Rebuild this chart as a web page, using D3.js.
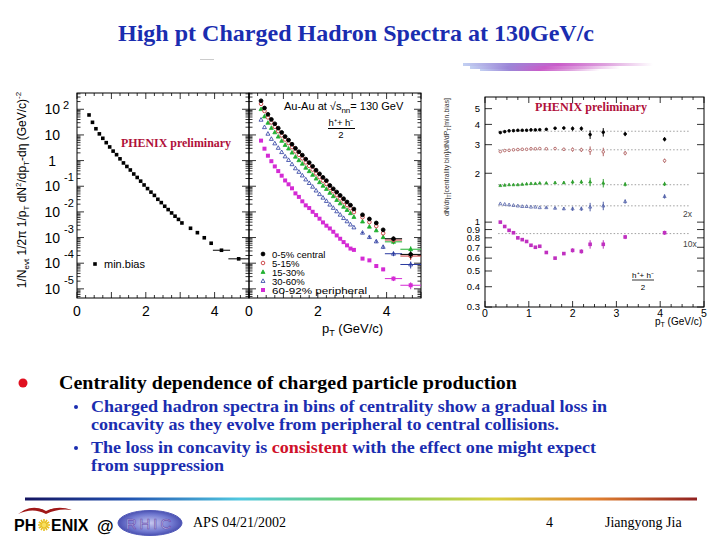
<!DOCTYPE html>
<html lang="en">
<head>
<meta charset="utf-8">
<title>High pt Charged Hadron Spectra at 130GeV/c</title>
<script src="https://d3js.org/d3.v7.min.js"></script>
<style>
  body { margin: 0; background: #fff; }
  svg { display: block; }
  .serif { font-family: "Liberation Serif", "Times New Roman", serif; }
  .sans { font-family: "Liberation Sans", Arial, Helvetica, sans-serif; }
  .frame { fill: none; stroke: #000; stroke-width: 1; }
  .tick { stroke: #000; stroke-width: 0.8; }
</style>
</head>
<body>
<script>
// ---- spectra (left + middle panels), pT in GeV/c ----
var ptBins = [0.35,0.45,0.55,0.65,0.75,0.85,0.95,1.05,1.15,1.25,1.35,1.45,1.55,1.65,1.75,1.85,1.95,2.05,2.15,2.25,2.35,2.45,2.55,2.65,2.75,2.85,2.95,3.05,3.3,3.5,3.7,3.9,4.2,4.7];
var minBias = [60,31,17.4,11.0,7.4,5.0,3.4,2.34,1.70,1.17,0.81,0.59,0.43,0.30,0.22,0.158,0.112,0.081,0.059,0.044,0.031,0.023,0.0166,0.0123,0.0091,0.0068,0.0051,0.0037,0.0023,0.00155,0.00098,0.0006,0.00032,0.000148];
var cent0_5 = [214,112,63.5,40.3,27.2,18.4,12.5,8.66,6.29,4.34,3.02,2.20,1.63,1.14,0.836,0.600,0.422,0.305,0.222,0.166,0.107,0.0796,0.0594,0.0440,0.0326,0.0243,0.0183,0.0129,0.0077,0.0053,0.0037,0.0020,0.0009,0.00022];
var cent5_15 = [163,85.6,48.2,30.7,20.7,14.05,9.55,6.62,4.81,3.32,2.29,1.67,1.22,0.852,0.618,0.444,0.314,0.227,0.165,0.123,0.0856,0.0635,0.0450,0.0333,0.0247,0.0184,0.0138,0.0098,0.0062,0.0040,0.0028,0.00147,0.0008,0.00019];
var cent15_30 = [101,52.4,29.6,18.7,12.6,8.55,5.85,4.05,2.94,2.04,1.41,1.03,0.753,0.525,0.385,0.277,0.198,0.143,0.104,0.0779,0.0549,0.0407,0.0289,0.0214,0.0158,0.0118,0.00887,0.00633,0.0042,0.00265,0.0019,0.00103,0.00068,0.00035];
var cent30_60 = [39,20.0,11.1,6.99,4.66,3.13,2.13,1.45,1.05,0.720,0.498,0.363,0.262,0.183,0.133,0.0956,0.0678,0.0490,0.0357,0.0266,0.0192,0.0143,0.0105,0.00775,0.00573,0.00428,0.00321,0.00248,0.00154,0.00104,0.000706,0.000432,0.000234,0.000089];
var cent60_92 = [6.0,2.91,1.55,0.946,0.592,0.390,0.258,0.168,0.119,0.0831,0.0527,0.0384,0.0258,0.0180,0.0141,0.0101,0.00750,0.00543,0.00389,0.00290,0.00226,0.00168,0.00121,0.000898,0.000664,0.000496,0.000372,0.00033,0.000151,0.000129,0.0000776,0.0000575,0.0000251,0.0000138];
var spectraRelErr = [0,0,0,0,0,0,0,0,0,0,0,0,0,0,0,0,0,0,0,0,0,0,0,0,0,0,0,0,0.08,0.1,0.12,0.15,0.2,0.3];
var ptHalfWidth = [0,0,0,0,0,0,0,0,0,0,0,0,0,0,0,0,0,0,0,0,0,0,0,0,0,0,0,0,0,0,0,0,0.25,0.3];

// ---- ratios to min.bias (right panel) ----
var ratioBins = [0.35,0.45,0.55,0.65,0.75,0.85,0.95,1.05,1.15,1.25,1.4,1.6,1.8,2.0,2.2,2.4,2.7,3.2,4.1];
var ratio0_5 = [3.56,3.61,3.65,3.66,3.68,3.68,3.68,3.70,3.70,3.71,3.73,3.79,3.80,3.77,3.77,3.46,3.58,3.49,3.24];
var ratio5_15 = [2.72,2.76,2.77,2.79,2.80,2.81,2.81,2.83,2.83,2.84,2.83,2.84,2.81,2.80,2.79,2.76,2.71,2.66,2.39];
var ratio15_30 = [1.68,1.69,1.70,1.70,1.70,1.71,1.72,1.73,1.73,1.74,1.74,1.75,1.75,1.77,1.77,1.77,1.74,1.71,1.72];
var ratio30_60x2 = [1.30,1.29,1.28,1.27,1.26,1.25,1.25,1.24,1.24,1.23,1.23,1.22,1.21,1.21,1.21,1.24,1.26,1.34,1.44];
var ratio60_92x10 = [1.00,0.94,0.89,0.86,0.80,0.78,0.76,0.72,0.70,0.71,0.65,0.60,0.64,0.67,0.66,0.73,0.73,0.81,0.86];
var ratioRelErr = [0,0,0,0,0,0,0,0,0,0,0.01,0.015,0.02,0.03,0.03,0.06,0.06,0.03,0.03];
var ratioLevels = [3.63,2.79,1.70,1.26,0.85];

// ---- labels / ticks ----
var legendLabels = ["0-5% central","5-15%","15-30%","30-60%","60-92% peripheral"];
var spectraExponents = [2,1,0,-1,-2,-3,-4,-5];
var ptTickLabels = [0,2,4];
var ratioTickLabels = [0.3,0.4,0.5,0.6,0.7,0.8,0.9,1,2,3,4,5];
var ratioPtTickLabels = [0,1,2,3,4,5];

var W = 720, H = 540;
var svg = d3.select("body").append("svg").attr("width", W).attr("height", H);
svg.append("rect").attr("width", W).attr("height", H).attr("fill", "#fff");

var defs = svg.append("defs");
var streak = defs.append("linearGradient").attr("id", "streak");
[["0", "#b8c8f0"], ["0.25", "#8a70d0"], ["0.5", "#c040c0"], ["0.75", "#d890d8"], ["1", "#ffffff"]]
  .forEach(function(s) { streak.append("stop").attr("offset", s[0]).attr("stop-color", s[1]); });
var rainbow = defs.append("linearGradient").attr("id", "rainbow");
[["0", "#141460"], ["0.15", "#2050b0"], ["0.32", "#50c8e0"], ["0.5", "#70d060"], ["0.7", "#d8d040"], ["0.85", "#e08030"], ["1", "#902020"]]
  .forEach(function(s) { rainbow.append("stop").attr("offset", s[0]).attr("stop-color", s[1]); });
var rhicGrad = defs.append("radialGradient").attr("id", "rhic");
[["0", "#c8c8f0"], ["0.7", "#7078d0"], ["1", "#4a50b0"]]
  .forEach(function(s) { rhicGrad.append("stop").attr("offset", s[0]).attr("stop-color", s[1]); });

// ---- title and decoration ----
svg.append("text").attr("class", "serif").attr("x", 118).attr("y", 41)
  .attr("font-size", 24).attr("font-weight", "bold")
  .attr("textLength", 476).attr("lengthAdjust", "spacingAndGlyphs")
  .attr("fill", "#1a2db0").text("High pt Charged Hadron Spectra at 130GeV/c");
[[463, 63, 190, 3], [470, 66, 150, 3], [480, 69, 120, 2]].forEach(function(r) {
  svg.append("rect").attr("x", r[0]).attr("y", r[1]).attr("width", r[2]).attr("height", r[3])
    .attr("fill", "url(#streak)").attr("opacity", 0.85);
});
svg.append("rect").attr("x", 200).attr("y", 59).attr("width", 14).attr("height", 1).attr("fill", "#ccc");

// ---- helpers ----
function marker(g, shape, cx, cy, s, color) {
  if (shape === "circle" || shape === "ocircle") {
    g.append("circle").attr("cx", cx).attr("cy", cy).attr("r", s)
      .attr("fill", shape === "circle" ? color : "#fff").attr("stroke", color).attr("stroke-width", 0.9);
  } else if (shape === "tri" || shape === "otri") {
    var p = [[cx, cy - s * 1.2], [cx - s * 1.1, cy + s * 0.8], [cx + s * 1.1, cy + s * 0.8]];
    g.append("polygon").attr("points", p.join(" "))
      .attr("fill", shape === "tri" ? color : "none").attr("stroke", color).attr("stroke-width", 0.8);
  } else {
    g.append("rect").attr("x", cx - s).attr("y", cy - s).attr("width", 2 * s).attr("height", 2 * s).attr("fill", color);
  }
}

function frame(g, x, y, yMajors, yMinors) {
  var x0 = x.range()[0], x1 = x.range()[1], y0 = y.range()[0], y1 = y.range()[1];
  g.append("rect").attr("class", "frame").attr("x", x0).attr("y", y1)
    .attr("width", x1 - x0).attr("height", y0 - y1);
  var xt = d3.range(0, 5.01, 0.25);
  xt.forEach(function(v) {
    var len = Math.abs(v - Math.round(v)) < 1e-6 ? 6 : 3;
    g.append("line").attr("class", "tick").attr("x1", x(v)).attr("x2", x(v)).attr("y1", y0).attr("y2", y0 - len);
    g.append("line").attr("class", "tick").attr("x1", x(v)).attr("x2", x(v)).attr("y1", y1).attr("y2", y1 + len);
  });
  yMajors.concat(yMinors).forEach(function(v, i) {
    var len = i < yMajors.length ? 7 : 3.5;
    g.append("line").attr("class", "tick").attr("x1", x0).attr("x2", x0 + len).attr("y1", y(v)).attr("y2", y(v));
    g.append("line").attr("class", "tick").attr("x1", x1).attr("x2", x1 - len).attr("y1", y(v)).attr("y2", y(v));
  });
}

function errBars(g, x, y, xs, ys, rel, half, color) {
  xs.forEach(function(p, i) {
    if (rel[i] > 0) {
      g.append("line").attr("x1", x(p)).attr("x2", x(p))
        .attr("y1", y(ys[i] * (1 - rel[i]))).attr("y2", y(ys[i] * (1 + rel[i])))
        .attr("stroke", color).attr("stroke-width", 1);
    }
    if (half && half[i] > 0) {
      g.append("line").attr("x1", x(p - half[i])).attr("x2", x(p + half[i]))
        .attr("y1", y(ys[i])).attr("y2", y(ys[i])).attr("stroke", color).attr("stroke-width", 1);
    }
  });
}

// ---- spectra scales (left and middle share y) ----
var ySpec = d3.scaleLog().domain([4.4e-6, 431]).range([298, 93]);
var xLeft = d3.scaleLinear().domain([0, 5]).range([77, 249]);
var xMid = d3.scaleLinear().domain([0, 5]).range([249, 421]);

var logMajors = spectraExponents.map(function(k) { return Math.pow(10, k); });
var logMinors = [];
d3.range(-6, 3).forEach(function(k) {
  d3.range(2, 10).forEach(function(m) {
    var v = m * Math.pow(10, k);
    if (v > ySpec.domain()[0] && v < ySpec.domain()[1]) logMinors.push(v);
  });
});

var gL = svg.append("g");
frame(gL, xLeft, ySpec, logMajors, logMinors);
var gM = svg.append("g");
frame(gM, xMid, ySpec, logMajors, logMinors);

// y tick labels
spectraExponents.forEach(function(k) {
  var yy = ySpec(Math.pow(10, k));
  var t = gL.append("text").attr("class", "sans").attr("font-size", 14).attr("y", yy + 5);
  if (k === 0) {
    t.attr("x", 56).attr("text-anchor", "end").text("1");
  } else {
    t.attr("x", 60).attr("text-anchor", "end").text("10");
    if (k !== 1) {
      gL.append("text").attr("class", "sans").attr("font-size", 11)
        .attr("x", k > 0 ? 63 : 64).attr("y", yy + (k > 0 ? 0 : -5)).text(k);
    }
  }
});
// x tick labels
ptTickLabels.forEach(function(v) {
  gL.append("text").attr("class", "sans").attr("font-size", 14).attr("x", xLeft(v)).attr("y", 316)
    .attr("text-anchor", "middle").text(v);
  gM.append("text").attr("class", "sans").attr("font-size", 14).attr("x", xMid(v)).attr("y", 316)
    .attr("text-anchor", "middle").text(v);
});

// left y title
var yt = svg.append("text").attr("class", "sans").attr("font-size", 12)
  .attr("transform", "translate(26,190) rotate(-90)").attr("text-anchor", "middle");
yt.append("tspan").text("1/N");
yt.append("tspan").attr("font-size", 8).attr("dy", 3).text("evt");
yt.append("tspan").attr("dy", -3).text(" 1/2\u03c0 1/p");
yt.append("tspan").attr("font-size", 8).attr("dy", 3).text("T");
yt.append("tspan").attr("dy", -3).text(" dN");
yt.append("tspan").attr("font-size", 8).attr("dy", -5).text("2");
yt.append("tspan").attr("dy", 5).text("/dp");
yt.append("tspan").attr("font-size", 8).attr("dy", 3).text("T");
yt.append("tspan").attr("dy", -3).text("-d\u03b7 (GeV/c)");
yt.append("tspan").attr("font-size", 8).attr("dy", -5).text("-2");

// left panel: min.bias
minBias.forEach(function(v, i) { marker(gL, "square", xLeft(ptBins[i]), ySpec(v), 1.8, "#000"); });
errBars(gL, xLeft, ySpec, ptBins, minBias, ptBins.map(function() { return 0; }), ptHalfWidth, "#000");
marker(gL, "square", 95, 264, 1.8, "#000");
gL.append("text").attr("class", "sans").attr("font-size", 11).attr("x", 104).attr("y", 268).text("min.bias");
gL.append("text").attr("class", "serif").attr("font-size", 12.5).attr("font-weight", "bold")
  .attr("fill", "#b0103a").attr("x", 121).attr("y", 147)
  .attr("textLength", 110).attr("lengthAdjust", "spacingAndGlyphs").text("PHENIX preliminary");

// middle panel: centrality classes
var series = [
  { vals: cent60_92, shape: "square", size: 2, color: "#d42ad4" },
  { vals: cent30_60, shape: "otri", size: 1.8, color: "#2a3aa0" },
  { vals: cent15_30, shape: "tri", size: 1.8, color: "#20b030" },
  { vals: cent5_15, shape: "ocircle", size: 1.8, color: "#c83a3a" },
  { vals: cent0_5, shape: "circle", size: 1.9, color: "#000" }
];
series.forEach(function(s) {
  errBars(gM, xMid, ySpec, ptBins, s.vals, spectraRelErr, ptHalfWidth, s.color);
  s.vals.forEach(function(v, i) { marker(gM, s.shape, xMid(ptBins[i]), ySpec(v), s.size, s.color); });
});
series.slice().reverse().forEach(function(s, i) {
  var yy = 254 + i * 9;
  marker(gM, s.shape, 263, yy, s.size, s.color);
  gM.append("text").attr("class", "sans").attr("font-size", 9.5).attr("x", 272).attr("y", yy + 3.5)
    .attr("textLength", i === 4 ? 95 : null).attr("lengthAdjust", "spacingAndGlyphs").text(legendLabels[i]);
});
var au = gM.append("text").attr("class", "sans").attr("font-size", 11).attr("x", 284).attr("y", 110);
au.append("tspan").text("Au-Au at \u221as");
au.append("tspan").attr("font-size", 8).attr("dy", 3).text("nn");
au.append("tspan").attr("dy", -3).text("= 130 GeV");
gM.append("text").attr("class", "sans").attr("font-size", 9.5).attr("x", 341).attr("y", 126)
  .attr("text-anchor", "middle").text("h\u207a+ h\u207b");
gM.append("line").attr("x1", 328).attr("x2", 355).attr("y1", 128.5).attr("y2", 128.5).attr("stroke", "#000");
gM.append("text").attr("class", "sans").attr("font-size", 9.5).attr("x", 341).attr("y", 138)
  .attr("text-anchor", "middle").text("2");
var px = gM.append("text").attr("class", "sans").attr("font-size", 13).attr("x", 322).attr("y", 333);
px.append("tspan").text("p");
px.append("tspan").attr("font-size", 9).attr("dy", 3).text("T");
px.append("tspan").attr("dy", -3).text(" (GeV/c)");

// ---- right panel: ratios ----
var xR = d3.scaleLinear().domain([0, 5]).range([485, 704]);
var yR = d3.scaleLog().domain([0.3, 5.9]).range([307, 97]);
var gR = svg.append("g");
frame(gR, xR, yR, ratioTickLabels, []);
ratioTickLabels.forEach(function(v) {
  gR.append("text").attr("class", "sans").attr("font-size", 9.5).attr("x", 480).attr("y", yR(v) + 3.3)
    .attr("text-anchor", "end").text(v);
});
ratioPtTickLabels.forEach(function(v) {
  gR.append("text").attr("class", "sans").attr("font-size", 10.5).attr("x", xR(v)).attr("y", 317)
    .attr("text-anchor", "middle").text(v);
});
var rx = gR.append("text").attr("class", "sans").attr("font-size", 10).attr("x", 655).attr("y", 325);
rx.append("tspan").text("p");
rx.append("tspan").attr("font-size", 7).attr("dy", 2).text("T");
rx.append("tspan").attr("dy", -2).text(" (GeV/c)");
var ryt = svg.append("text").attr("class", "sans").attr("font-size", 7.5).attr("fill", "#333")
  .attr("transform", "translate(449,157) rotate(-90)").attr("text-anchor", "middle")
  .attr("textLength", 118).attr("lengthAdjust", "spacingAndGlyphs");
ryt.append("tspan").text("dN/d\u03b7");
ryt.append("tspan").attr("font-size", 5.5).attr("dy", 2).text("T");
ryt.append("tspan").attr("dy", -2).text("[centrality bin]/dN/dP");
ryt.append("tspan").attr("font-size", 5.5).attr("dy", 2).text("T");
ryt.append("tspan").attr("dy", -2).text("[min.bias]");

ratioLevels.forEach(function(v) {
  gR.append("line").attr("x1", xR(0.3)).attr("x2", xR(4.65)).attr("y1", yR(v)).attr("y2", yR(v))
    .attr("stroke", "#777").attr("stroke-width", 0.7).attr("stroke-dasharray", "1.5,2");
});
var ratioSeries = [
  { vals: ratio0_5, shape: "circle", size: 1.3, color: "#000" },
  { vals: ratio5_15, shape: "ocircle", size: 1.3, color: "#b06060" },
  { vals: ratio15_30, shape: "tri", size: 1.3, color: "#30a030" },
  { vals: ratio30_60x2, shape: "otri", size: 1.4, color: "#5060a8" },
  { vals: ratio60_92x10, shape: "square", size: 1.8, color: "#c030c0" }
];
ratioSeries.forEach(function(s) {
  errBars(gR, xR, yR, ratioBins, s.vals, ratioRelErr, null, s.color);
  s.vals.forEach(function(v, i) { marker(gR, s.shape, xR(ratioBins[i]), yR(v), s.size, s.color); });
});
gR.append("text").attr("class", "sans").attr("font-size", 8.5).attr("fill", "#444").attr("x", 683).attr("y", 217).text("2x");
gR.append("text").attr("class", "sans").attr("font-size", 8.5).attr("fill", "#444").attr("x", 683).attr("y", 247).text("10x");
gR.append("text").attr("class", "sans").attr("font-size", 8).attr("x", 643).attr("y", 278)
  .attr("text-anchor", "middle").text("h\u207a+ h\u207b");
gR.append("line").attr("x1", 632).attr("x2", 654).attr("y1", 280).attr("y2", 280).attr("stroke", "#000").attr("stroke-width", 0.8);
gR.append("text").attr("class", "sans").attr("font-size", 8).attr("x", 643).attr("y", 290)
  .attr("text-anchor", "middle").text("2");
gR.append("text").attr("class", "serif").attr("font-size", 12.5).attr("font-weight", "bold")
  .attr("fill", "#b0103a").attr("x", 535).attr("y", 111)
  .attr("textLength", 112).attr("lengthAdjust", "spacingAndGlyphs").text("PHENIX preliminary");

// ---- bullet text ----
svg.append("circle").attr("cx", 23).attr("cy", 383).attr("r", 4.5).attr("fill", "#e01020");
svg.append("text").attr("class", "serif").attr("font-size", 19.5).attr("font-weight", "bold")
  .attr("x", 59).attr("y", 389).attr("textLength", 458).attr("lengthAdjust", "spacingAndGlyphs")
  .text("Centrality dependence of charged particle production");
[407, 448].forEach(function(yy) {
  svg.append("circle").attr("cx", 76).attr("cy", yy).attr("r", 2).attr("fill", "#1a2db0");
});
var lines = [
  [["Charged hadron spectra in bins of centrality show a gradual loss in", "#1a2db0"]],
  [["concavity as they evolve from peripheral to central collisions.", "#1a2db0"]],
  [["The loss in concavity is ", "#1a2db0"], ["consistent", "#d0102a"], [" with the effect one might expect", "#1a2db0"]],
  [["from suppression", "#1a2db0"]]
];
var lineWidths = [516, 468, 505, 133];
[412, 430, 453, 471].forEach(function(yy, i) {
  var t = svg.append("text").attr("class", "serif").attr("font-size", 17).attr("font-weight", "bold")
    .attr("x", 91).attr("y", yy).attr("xml:space", "preserve")
    .attr("textLength", lineWidths[i]).attr("lengthAdjust", "spacingAndGlyphs");
  lines[i].forEach(function(seg) { t.append("tspan").attr("fill", seg[1]).text(seg[0]); });
});

// ---- footer ----
svg.append("rect").attr("x", 25).attr("y", 497.5).attr("width", 672).attr("height", 3).attr("fill", "url(#rainbow)");
svg.append("path").attr("d", "M18,514 Q32,503 46,511 Q58,505 72,510 Q58,508 46,514 Q33,507 18,514 Z")
  .attr("fill", "#a01818");
svg.append("text").attr("class", "sans").attr("font-size", 16).attr("font-weight", "bold")
  .attr("x", 14).attr("y", 531).text("PH");
var sun = svg.append("g").attr("transform", "translate(44,525)");
d3.range(0, 360, 30).forEach(function(a) {
  var r = a * Math.PI / 180;
  sun.append("line").attr("x1", 0).attr("y1", 0).attr("x2", 6 * Math.cos(r)).attr("y2", 6 * Math.sin(r))
    .attr("stroke", "#e8c020").attr("stroke-width", 1.6);
});
sun.append("circle").attr("r", 2.2).attr("fill", "#f8e060");
svg.append("text").attr("class", "sans").attr("font-size", 16).attr("font-weight", "bold")
  .attr("x", 51).attr("y", 531).text("ENIX");
svg.append("text").attr("class", "sans").attr("font-size", 17).attr("font-weight", "bold")
  .attr("x", 97).attr("y", 532).text("@");
svg.append("ellipse").attr("cx", 150).attr("cy", 523).attr("rx", 32).attr("ry", 12.5)
  .attr("fill", "url(#rhic)").attr("stroke", "#5058b8").attr("stroke-width", 1);
svg.append("text").attr("class", "sans").attr("font-size", 15).attr("x", 150).attr("y", 529)
  .attr("text-anchor", "middle").attr("letter-spacing", 3).attr("fill", "#b8c0f0")
  .attr("stroke", "#6a4aa8").attr("stroke-width", 0.6).text("RHIC");
svg.append("text").attr("class", "serif").attr("font-size", 14).attr("x", 193).attr("y", 527).text("APS 04/21/2002");
svg.append("text").attr("class", "serif").attr("font-size", 14).attr("x", 546).attr("y", 527).text("4");
svg.append("text").attr("class", "serif").attr("font-size", 14).attr("x", 605).attr("y", 527).text("Jiangyong Jia");
</script>
</body>
</html>
